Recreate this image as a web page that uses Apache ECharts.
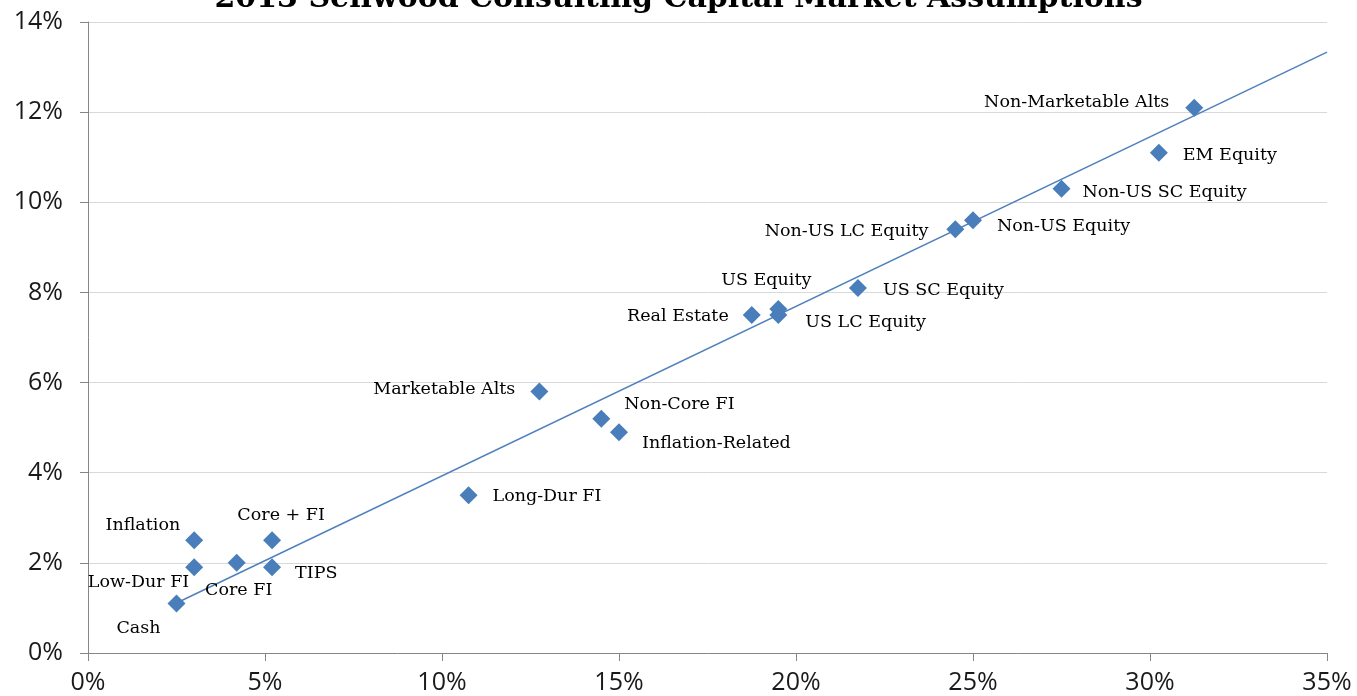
<!DOCTYPE html>
<html>
<head>
<meta charset="utf-8">
<script src="https://cdn.jsdelivr.net/npm/echarts@6/dist/echarts.min.js"></script>
<style>
html, body { margin: 0; padding: 0; background: #fff; }
#main { width: 1357px; height: 696px; }
</style>
</head>
<body>
<div id="main"></div>
<script>
// 资产类别
var names = ['Cash', 'Low-Dur FI', 'Inflation', 'Core FI', 'Core + FI', 'TIPS', 'Long-Dur FI',
	'Marketable Alts', 'Non-Core FI', 'Inflation-Related', 'Real Estate', 'US Equity', 'US LC Equity',
	'US SC Equity', 'Non-US LC Equity', 'Non-US Equity', 'Non-US SC Equity', 'EM Equity', 'Non-Marketable Alts'];
// 风险 (x, %)
var riskX = [2.5, 3.0, 3.0, 4.2, 5.2, 5.2, 10.75, 12.75, 14.5, 15.0, 18.75, 19.5, 19.5, 21.75, 24.5, 25.0, 27.5, 30.25, 31.25];
// 预期收益 (y, %)
var returnY = [1.1, 1.9, 2.5, 2.0, 2.5, 1.9, 3.5, 5.8, 5.2, 4.9, 7.5, 7.63, 7.5, 8.1, 9.4, 9.6, 10.3, 11.1, 12.1];
// 趋势线两端
var trendX = [2.5, 35];
var trendY = [1.11, 13.33];
// 刻度
var xTicks = [0, 5, 10, 15, 20, 25, 30, 35];
var yTicks = [0, 2, 4, 6, 8, 10, 12, 14];

// 标签位置 (样式)
var labelPos = {
	'Cash': ['left', -2, 25],
	'Low-Dur FI': ['left', 9, 15],
	'Inflation': ['left', 0, -15],
	'Core FI': ['bottom', 2, 5],
	'Core + FI': ['top', 9, -2],
	'TIPS': ['right', 9, 6],
	'Long-Dur FI': ['right', 10, 1],
	'Marketable Alts': ['left', -10, -2],
	'Non-Core FI': ['right', 9, -14],
	'Inflation-Related': ['right', 9, 11],
	'Real Estate': ['left', -9, 1],
	'US Equity': ['top', -12, -6],
	'US LC Equity': ['right', 13, 7],
	'US SC Equity': ['right', 11, 3],
	'Non-US LC Equity': ['left', -13, 2],
	'Non-US Equity': ['right', 10, 6],
	'Non-US SC Equity': ['right', 7, 4],
	'EM Equity': ['right', 10, 3],
	'Non-Marketable Alts': ['left', -11, -5]
};

var pts = [];
for (var i = 0; i < names.length; i++) {
	var lp = labelPos[names[i]];
	pts.push({
		name: names[i],
		value: [riskX[i], returnY[i]],
		label: { position: lp[0], offset: [lp[1], lp[2]] }
	});
}
var trend = [];
for (var j = 0; j < trendX.length; j++) {
	trend.push([trendX[j], trendY[j]]);
}

var myChart = echarts.init(document.getElementById('main'));
var option = {
	animation: false,
	title: {
		text: '2013 Sellwood Consulting Capital Market Assumptions',
		left: 'center',
		top: -21,
		textStyle: { fontFamily: 'DejaVu Serif', fontWeight: 'bold', fontSize: 30, color: '#000' }
	},
	grid: { left: 88, right: 30, top: 22, bottom: 43 },
	xAxis: {
		type: 'value',
		min: xTicks[0],
		max: xTicks[xTicks.length - 1],
		interval: 5,
		axisLine: { lineStyle: { color: '#868686', width: 1 } },
		axisTick: { show: true, inside: false, length: 8, lineStyle: { color: '#868686' } },
		axisLabel: {
			margin: 17, color: '#1a1a1a', fontFamily: 'Open Sans', fontSize: 25,
			formatter: function (v) { return v + '%'; }
		},
		splitLine: { show: false }
	},
	yAxis: {
		type: 'value',
		min: yTicks[0],
		max: yTicks[yTicks.length - 1],
		interval: 2,
		axisLine: { show: true, lineStyle: { color: '#868686', width: 1 } },
		axisTick: { show: true, inside: false, length: 8, lineStyle: { color: '#868686' } },
		axisLabel: {
			margin: 25, color: '#1a1a1a', fontFamily: 'Open Sans', fontSize: 25,
			formatter: function (v) { return v + '%'; }
		},
		splitLine: { show: true, lineStyle: { color: '#d9d9d9', width: 1 } }
	},
	series: [{
		type: 'line',
		data: trend,
		symbol: 'none',
		lineStyle: { color: '#4f81bd', width: 1.5 },
		z: 1
	}, {
		type: 'scatter',
		data: pts,
		symbol: 'diamond',
		symbolSize: 18,
		itemStyle: { color: '#4a7ebb', opacity: 1 },
		label: {
			show: true,
			distance: 5,
			formatter: '{b}',
			color: '#000',
			fontFamily: 'DejaVu Serif',
			fontSize: 17.5
		},
		z: 3
	}]
};
myChart.setOption(option);
</script>
</body>
</html>
